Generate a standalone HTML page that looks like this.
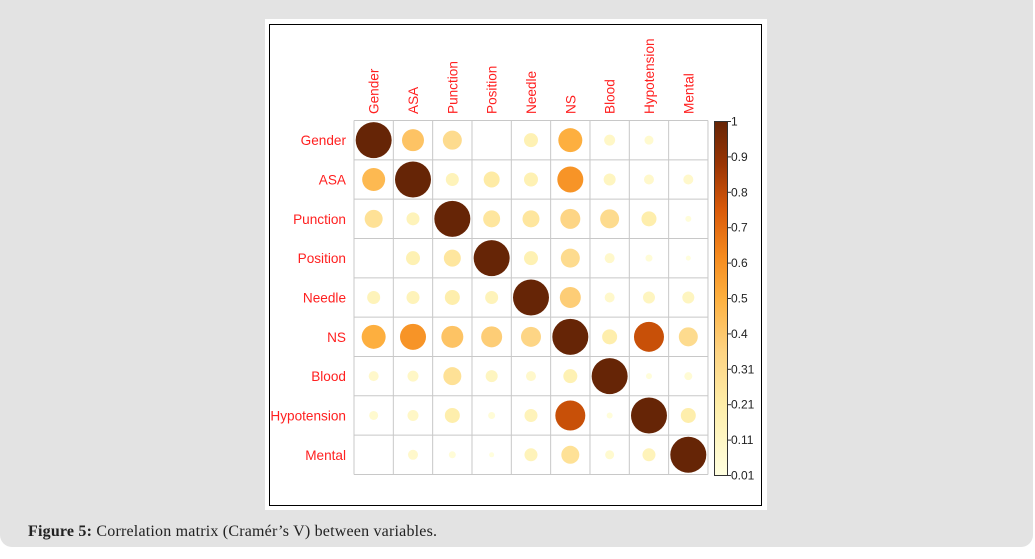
<!DOCTYPE html>
<html><head><meta charset="utf-8"><style>
html,body{margin:0;padding:0;background:#fff;width:1035px;height:559px;overflow:hidden}
#panel{position:absolute;left:0;top:0;width:1033px;height:547px;background:#e3e3e3;border-radius:0 0 12px 12px}
#cap{position:absolute;left:28px;top:523px;font-family:"Liberation Serif",serif;font-size:16px;color:#222;letter-spacing:0.2px}
svg{position:absolute;left:0;top:0}
</style></head><body>
<div id="panel"></div>
<svg id="s" width="1035" height="559" xmlns="http://www.w3.org/2000/svg">
<defs><linearGradient id="cb" x1="0" y1="1" x2="0" y2="0">
<stop offset="0" stop-color="#FFFFE0"/><stop offset="0.2" stop-color="#FEEDA8"/><stop offset="0.35" stop-color="#FDD382"/>
<stop offset="0.5" stop-color="#FDB040"/><stop offset="0.62" stop-color="#F58A1E"/><stop offset="0.75" stop-color="#D95A0A"/>
<stop offset="0.88" stop-color="#993404"/><stop offset="1" stop-color="#662506"/></linearGradient></defs>
<rect x="265" y="19" width="502" height="491" fill="#fff"/>
<rect x="269.5" y="24.5" width="492" height="481" fill="none" stroke="#000" stroke-width="1"/>
<g id="g"></g>
<rect x="714.5" y="121.5" width="13" height="354" fill="url(#cb)" stroke="#333" stroke-width="1"/>
<g id="t" font-family="Liberation Sans, sans-serif" font-size="12" fill="#222"></g>
</svg>
<div id="cap"><b>Figure 5:</b> Correlation matrix (Cramér’s V) between variables.</div>
<script>
var names=["Gender","ASA","Punction","Position","Needle","NS","Blood","Hypotension","Mental"];
var D=[[36,22,19,0,14,24,11,9,0],[23,36,13,16,14,26,12,10,10],[18,13,36,17,17,20,19,15,6],[0,14,17,36,14,19,10,7,5],
[13,13,15,13,36,21,10,12,12],[24,26,22,21,20,36,15,30,19],[10,11,18,12,10,14,36,6,8],[9,11,15,7,13,30,6,36,15],[0,10,7,5,13,18,9,13,36]];
var stops=[[0,[255,255,224]],[0.2,[254,237,168]],[0.35,[253,211,130]],[0.5,[253,176,64]],[0.62,[245,138,30]],[0.75,[217,90,10]],[0.88,[153,52,4]],[1,[102,37,6]]];
function col(v){v=Math.min(1,v);for(var i=1;i<stops.length;i++){if(v<=stops[i][0]){var a=stops[i-1],b=stops[i],f=(v-a[0])/(b[0]-a[0]);return "rgb("+a[1].map(function(c,k){return Math.round(c+(b[1][k]-c)*f)}).join(",")+")";}}return "rgb(102,37,6)";}
var lv=[0.01,0.11,0.21,0.31,0.4,0.5,0.6,0.7,0.8,0.9,1];
function pos(v){if(v<=0.01)return 0;for(var i=1;i<lv.length;i++)if(v<=lv[i])return (i-1+(v-lv[i-1])/(lv[i]-lv[i-1]))/10;return 1;}
var x0=354,y0=120.5,c=39.33,h="";
for(var i=0;i<9;i++)for(var j=0;j<9;j++){var d=D[i][j];if(!d)continue;var v=Math.pow(d/36,2);
h+='<circle cx="'+(x0+c*j+c/2)+'" cy="'+(y0+c*i+c/2)+'" r="'+(d/2)+'" fill="'+(d>=36?"#662506":col(pos(v)*1.13))+'"/>';}
for(var k=0;k<=9;k++){h+='<line x1="'+(x0+c*k)+'" y1="'+y0+'" x2="'+(x0+c*k)+'" y2="'+(y0+c*9)+'" stroke="#c8c8c8"/>';
h+='<line x1="'+x0+'" y1="'+(y0+c*k)+'" x2="'+(x0+c*9)+'" y2="'+(y0+c*k)+'" stroke="#c8c8c8"/>';}
for(var i=0;i<9;i++){h+='<text x="346" y="'+(y0+c*i+c/2+5)+'" text-anchor="end" font-family="Liberation Sans, sans-serif" font-size="13.6" fill="#ff2020">'+names[i]+'</text>';
var cx=x0+c*i+c/2+5;h+='<text transform="translate('+cx+',114) rotate(-90)" font-family="Liberation Sans, sans-serif" font-size="13.6" fill="#ff2020">'+names[i]+'</text>';}
document.getElementById("g").innerHTML=h;
var t="";for(var k=0;k<11;k++){var y=475.5-k*35.4;t+='<line x1="727" y1="'+y+'" x2="731" y2="'+y+'" stroke="#333"/><text x="731" y="'+(y+4)+'">'+lv[k]+'</text>';}
document.getElementById("t").innerHTML=t;
</script>
</body></html>
